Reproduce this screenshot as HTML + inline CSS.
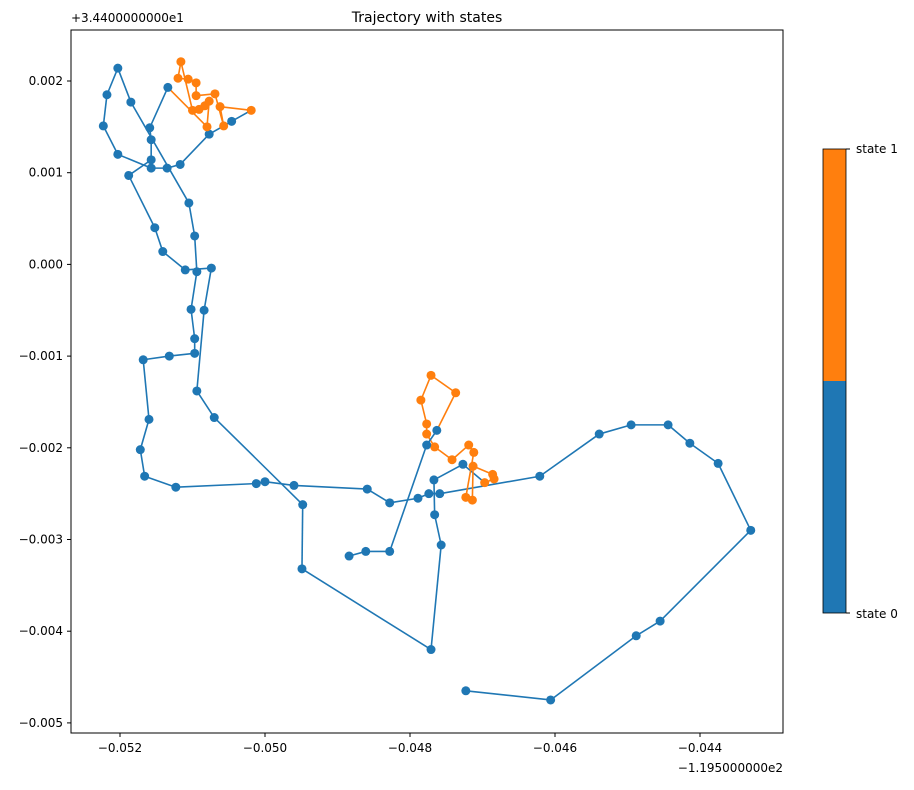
<!DOCTYPE html>
<html><head><meta charset="utf-8"><style>
body{margin:0;background:#fff;font-family:"Liberation Sans",sans-serif}
svg text{font-family:"DejaVu Sans","Liberation Sans",sans-serif;font-size:12px;fill:#000}
</style></head><body>
<svg id="c" width="914" height="785">
<rect x="0" y="0" width="914" height="785" fill="#fff"/>
<text x="427" y="22" text-anchor="middle" style="font-size:14px">Trajectory with states</text>
<g id="plot"></g>
<rect x="71" y="30" width="712" height="703" fill="none" stroke="#000" stroke-width="1"/>
<g id="axes"></g>
<text x="783" y="772" text-anchor="end">−1.195000000e2</text>
<text x="71" y="22">+3.4400000000e1</text>
<g>
<rect x="823" y="149" width="23" height="232" fill="#ff7f0e"/>
<rect x="823" y="381" width="23" height="232" fill="#1f77b4"/>
<rect x="823" y="149" width="23" height="464" fill="none" stroke="#000" stroke-width="0.8"/>
<line x1="846" y1="149" x2="850" y2="149" stroke="#000"/>
<line x1="846" y1="613" x2="850" y2="613" stroke="#000"/>
<text x="856" y="153">state 1</text>
<text x="856" y="618">state 0</text>
</g>
</svg>
<script>
// values in thousandths (x relative to -119.5, y relative to 34.4)
const xs=[-47.23,-46.06,-44.88,-44.55,-43.30,-43.75,-44.14,-44.44,-44.95,-45.39,-46.21,
-47.59,-47.74,-47.89,-48.28,-48.59,-49.60,-50.00,-50.12,-51.23,-51.66,-51.72,-51.60,-51.68,-51.32,-50.97,-50.97,-51.02,-50.94,-50.97,-51.05,-51.85,-52.03,-52.18,-52.23,-52.03,-51.57,-51.35,-51.17,-50.77,-50.46,
-50.19,-50.62,-50.57,-50.69,-50.95,-50.95,-51.06,-51.20,-51.16,-51.00,-50.91,-50.83,-50.77,-50.80,
-51.34,-51.59,-51.57,-51.57,-51.88,-51.52,-51.41,-51.10,-50.74,-50.84,-50.94,-50.70,-49.48,-49.49,-47.71,-47.57,-47.66,-47.67,-47.27,
-46.97,-46.84,-46.86,-47.13,-47.14,-47.23,-47.12,-47.19,-47.42,-47.66,-47.77,-47.77,-47.85,-47.71,-47.37,
-47.63,-47.77,-48.28,-48.61,-48.84];
const ys=[-4.65,-4.75,-4.05,-3.89,-2.90,-2.17,-1.95,-1.75,-1.75,-1.85,-2.31,
-2.50,-2.50,-2.55,-2.60,-2.45,-2.41,-2.37,-2.39,-2.43,-2.31,-2.02,-1.69,-1.04,-1.00,-0.97,-0.81,-0.49,-0.08,0.31,0.67,1.77,2.14,1.85,1.51,1.20,1.05,1.05,1.09,1.42,1.56,
1.68,1.72,1.51,1.86,1.84,1.98,2.02,2.03,2.21,1.68,1.69,1.73,1.78,1.50,
1.93,1.49,1.36,1.14,0.97,0.40,0.14,-0.06,-0.04,-0.50,-1.38,-1.67,-2.62,-3.32,-4.20,-3.06,-2.73,-2.35,-2.18,
-2.38,-2.34,-2.29,-2.20,-2.57,-2.54,-2.05,-1.97,-2.13,-1.99,-1.85,-1.74,-1.48,-1.21,-1.40,
-1.81,-1.97,-3.13,-3.13,-3.18];
const states=[0,0,0,0,0,0,0,0,0,0,0, 0,0,0,0,0,0,0,0,0,0,0,0,0,0,0,0,0,0,0,0,0,0,0,0,0,0,0,0,0,0,
1,1,1,1,1,1,1,1,1,1,1,1,1,1, 0,0,0,0,0,0,0,0,0,0,0,0,0,0,0,0,0,0,0, 1,1,1,1,1,1,1,1,1,1,1,1,1,1,1, 0,0,0,0,0];
const xTicks=[-52,-50,-48,-46,-44];
const xTickLabels=["−0.052","−0.050","−0.048","−0.046","−0.044"];
const yTicks=[2,1,0,-1,-2,-3,-4,-5];
const yTickLabels=["0.002","0.001","0.000","−0.001","−0.002","−0.003","−0.004","−0.005"];
const colors=["#1f77b4","#ff7f0e"];
const X=v=>120+(v+52)*72.5, Y=v=>81+(2-v)*91.7;
const NS="http://www.w3.org/2000/svg";
const plot=document.getElementById('plot'), axes=document.getElementById('axes');
for(let i=0;i<xs.length-1;i++){
 const l=document.createElementNS(NS,'line');
 l.setAttribute('x1',X(xs[i]));l.setAttribute('y1',Y(ys[i]));
 l.setAttribute('x2',X(xs[i+1]));l.setAttribute('y2',Y(ys[i+1]));
 l.setAttribute('stroke',colors[states[i]]);l.setAttribute('stroke-width','1.6');
 
 
 plot.appendChild(l);
}
for(let i=0;i<xs.length;i++){
 const c=document.createElementNS(NS,'circle');
 c.setAttribute('cx',X(xs[i]));c.setAttribute('cy',Y(ys[i]));c.setAttribute('r','4.5');
 c.setAttribute('fill',colors[states[i]]);
 
 
 plot.appendChild(c);
}
xTicks.forEach((t,i)=>{
 const x=X(t);
 const l=document.createElementNS(NS,'line');
 l.setAttribute('x1',x);l.setAttribute('x2',x);l.setAttribute('y1',733);l.setAttribute('y2',737);l.setAttribute('stroke','#000');
 
 
 axes.appendChild(l);
 const tx=document.createElementNS(NS,'text');
 tx.setAttribute('x',x);tx.setAttribute('y',752);tx.setAttribute('text-anchor','middle');tx.textContent=xTickLabels[i];
 
 
 axes.appendChild(tx);
});
yTicks.forEach((t,i)=>{
 const y=Y(t);
 const l=document.createElementNS(NS,'line');
 l.setAttribute('x1',67);l.setAttribute('x2',71);l.setAttribute('y1',y);l.setAttribute('y2',y);l.setAttribute('stroke','#000');
 
 
 axes.appendChild(l);
 const tx=document.createElementNS(NS,'text');
 tx.setAttribute('x',63);tx.setAttribute('y',y+4);tx.setAttribute('text-anchor','end');tx.textContent=yTickLabels[i];
 
 
 axes.appendChild(tx);
});
</script>
</body></html>
